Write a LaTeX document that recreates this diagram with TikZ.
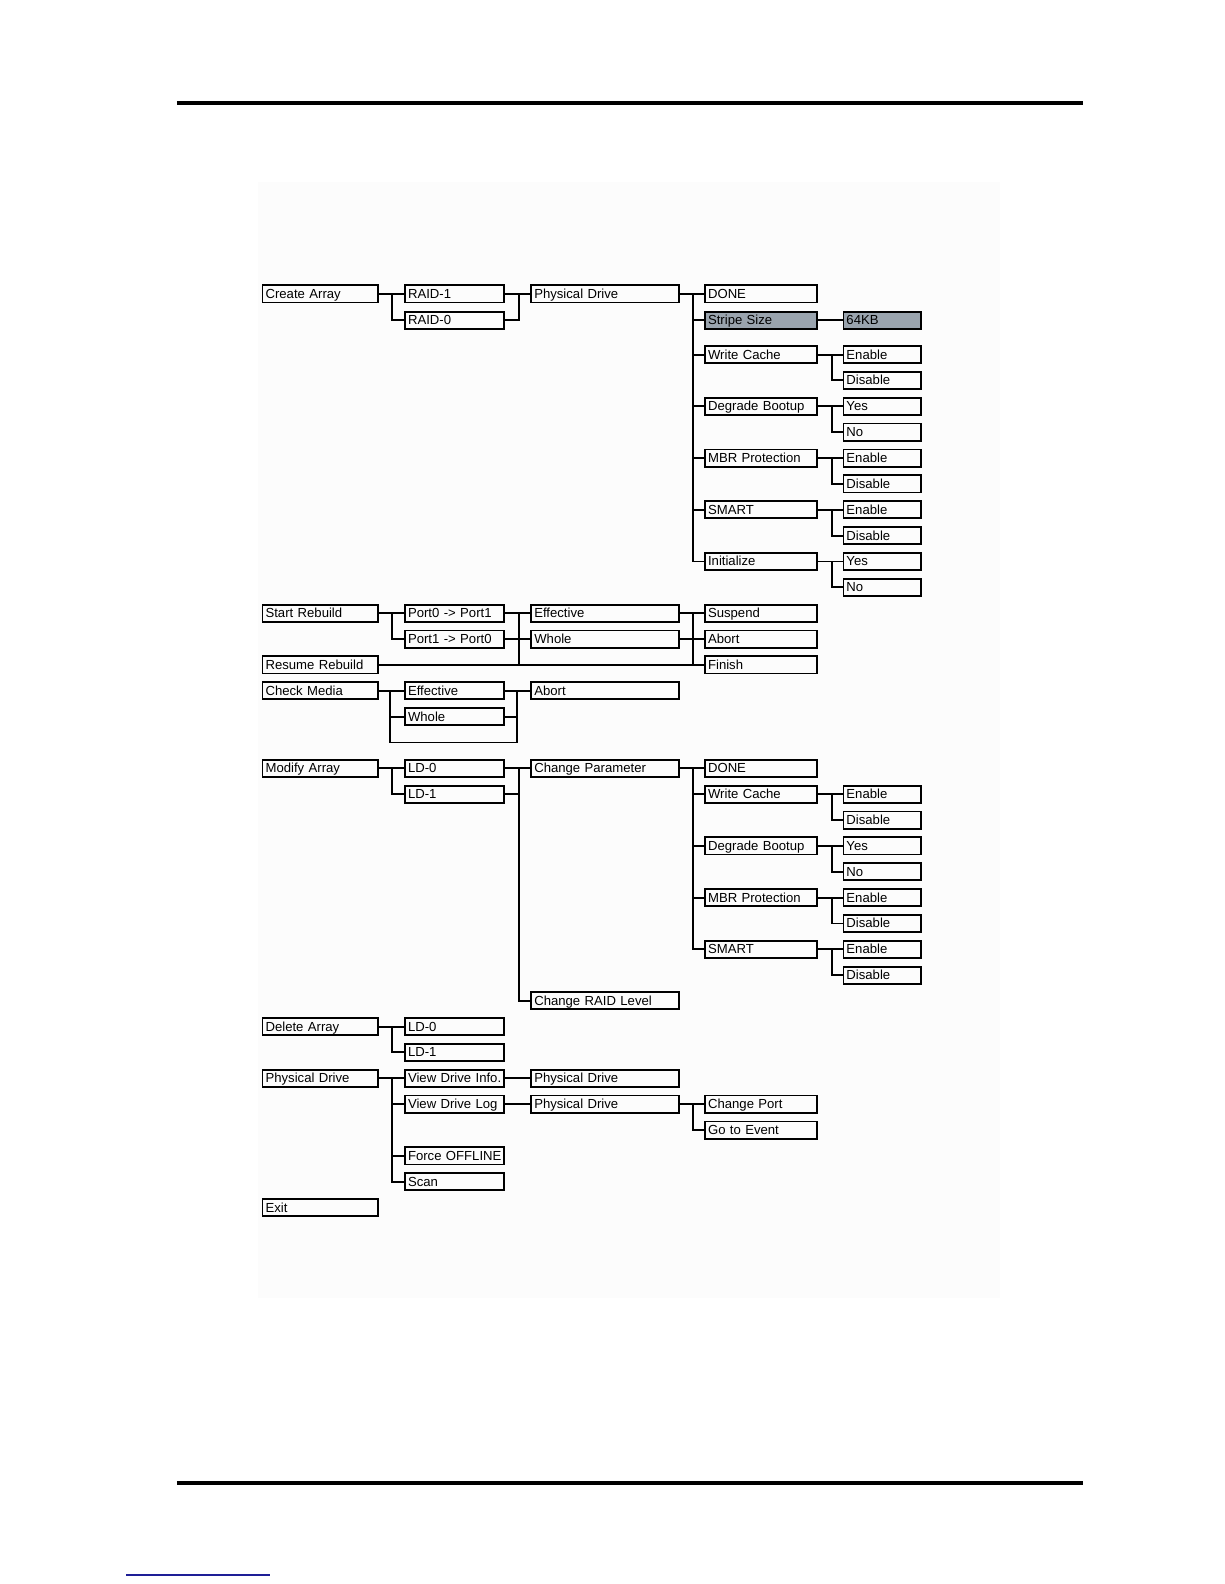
\documentclass[tikz,border=0pt]{standalone}
\usepackage{fontspec}
\setmainfont{Liberation Sans}
\begin{document}
\begin{tikzpicture}[x=1pt,y=-1pt,
  bx/.style={draw, line width=1.8pt, inner xsep=3pt, inner ysep=0pt, minimum height=17pt,
    text height=10.4pt, text depth=1.6pt, anchor=west, align=left,
    font=\fontsize{13}{13}\selectfont},
  ca/.style={bx, text width=108pt},
  cb/.style={bx, text width=92pt},
  cc/.style={bx, text width=140pt},
  cd/.style={bx, text width=105pt},
  ce/.style={bx, text width=71pt},
  shade/.style={fill={rgb,255:red,154;green,164;blue,174}},
  cn/.style={line width=1.9pt},
  rule/.style={line width=4pt}]
\useasboundingbox (0,0) rectangle (1212,1568);
\fill[gray!2] (255,180) rectangle (990,1285);
\draw[rule] (175,102) coordinate (tl) -- (1072,102) coordinate (tr);
\draw[rule] (175,1468) coordinate (bl) -- (1072,1468) coordinate (br);
\draw[line width=1.3pt, color={rgb,255:red,30;green,30;blue,150}] (125,1559) coordinate (ul) -- (267,1559) coordinate (ur);

\newcommand\myfork[2]{\draw[cn] (#1.east) ++(13.5,0) |- (#2.west);}
\newcommand\mymerge[2]{\draw[cn] (#1.east) -- ++(13.5,0) |- (#2.west);}

% ---- Create Array
\node[ca] (ca) at (259,291) {Create Array};
\node[cb] (r1) at (400,291) {RAID-1};
\node[cb] (r0) at (400,317) {RAID-0};
\node[cc] (pd) at (525,291) {Physical Drive};
\node[cd] (dn) at (697,291) {DONE};
\node[cd,shade] (ss) at (697,317) {Stripe Size};
\node[ce,shade] (kb) at (834,317) {64KB};
\node[cd] (wc) at (697,351) {Write Cache};
\node[ce] (wce) at (834,351) {Enable};
\node[ce] (wcd) at (834,376.6) {Disable};
\node[cd] (db) at (697,402.2) {Degrade Bootup};
\node[ce] (dby) at (834,402.2) {Yes};
\node[ce] (dbn) at (834,427.8) {No};
\node[cd] (mp) at (697,453.4) {MBR Protection};
\node[ce] (mpe) at (834,453.4) {Enable};
\node[ce] (mpd) at (834,479) {Disable};
\node[cd] (sm) at (697,504.6) {SMART};
\node[ce] (sme) at (834,504.6) {Enable};
\node[ce] (smd) at (834,530.2) {Disable};
\node[cd] (ini) at (697,555.8) {Initialize};
\node[ce] (iny) at (834,555.8) {Yes};
\node[ce] (inn) at (834,581.4) {No};

\draw[cn] (ca.east) -- (r1.west);
\myfork{ca}{r0}
\draw[cn] (r1.east) -- (pd.west);
\mymerge{r0}{pd}
\draw[cn] (pd.east) -- (dn.west);
\foreach \c in {ss,wc,db,mp,sm,ini} {\myfork{pd}{\c}}
\draw[cn] (ss.east) -- (kb.west);
\draw[cn] (wc.east) -- (wce.west); \myfork{wc}{wcd}
\draw[cn] (db.east) -- (dby.west); \myfork{db}{dbn}
\draw[cn] (mp.east) -- (mpe.west); \myfork{mp}{mpd}
\draw[cn] (sm.east) -- (sme.west); \myfork{sm}{smd}
\draw[cn] (ini.east) -- (iny.west); \myfork{ini}{inn}

% ---- Rebuild
\node[ca] (sr) at (259,607) {Start Rebuild};
\node[cb] (p0) at (400,607) {Port0 -> Port1};
\node[cb] (p1) at (400,632.6) {Port1 -> Port0};
\node[cc] (ef) at (525,607) {Effective};
\node[cc] (wh) at (525,632.6) {Whole};
\node[cd] (su) at (697,607) {Suspend};
\node[cd] (ab) at (697,632.6) {Abort};
\node[cd] (fi) at (697,658.2) {Finish};
\node[ca] (rr) at (259,658.2) {Resume Rebuild};

\draw[cn] (sr.east) -- (p0.west);
\myfork{sr}{p1}
\draw[cn] (p0.east) -- (ef.west);
\draw[cn] (p1.east) -- (wh.west);
\draw[cn] (rr.east) -- (fi.west);
\draw[cn] (p0.east) ++(13.5,0) |- (rr.east);
\draw[cn] (ef.east) -- (su.west);
\draw[cn] (wh.east) -- (ab.west);
\myfork{ef}{fi}

% ---- Check Media
\node[ca] (cm) at (259,683.8) {Check Media};
\node[cb] (e2) at (400,683.8) {Effective};
\node[cb] (w2) at (400,709.4) {Whole};
\node[cc] (a2) at (525,683.8) {Abort};
\coordinate (lb1) at (386.5,735);
\coordinate (lb2) at (511.5,735);
\draw[cn] (cm.east) -- (e2.west);
\draw[cn] (cm.east) -| (lb1);
\draw[cn] (lb1) |- (w2.west);
\draw[cn] (lb1) -- (lb2) |- (a2.west);
\draw[cn] (w2.east) -| (lb2);
\draw[cn] (e2.east) -- (a2.west);

% ---- Modify Array
\node[ca] (ma) at (259,760.6) {Modify Array};
\node[cb] (l0) at (400,760.6) {LD-0};
\node[cb] (l1) at (400,786.2) {LD-1};
\node[cc] (cp) at (525,760.6) {Change Parameter};
\node[cc] (cr) at (525,990.6) {Change RAID Level};
\node[cd] (dn2) at (697,760.6) {DONE};
\node[cd] (wc2) at (697,786.2) {Write Cache};
\node[ce] (wce2) at (834,786.2) {Enable};
\node[ce] (wcd2) at (834,811.8) {Disable};
\node[cd] (db2) at (697,837.4) {Degrade Bootup};
\node[ce] (dby2) at (834,837.4) {Yes};
\node[ce] (dbn2) at (834,863) {No};
\node[cd] (mp2) at (697,888.6) {MBR Protection};
\node[ce] (mpe2) at (834,888.6) {Enable};
\node[ce] (mpd2) at (834,914.2) {Disable};
\node[cd] (sm2) at (697,939.8) {SMART};
\node[ce] (sme2) at (834,939.8) {Enable};
\node[ce] (smd2) at (834,965.4) {Disable};

\draw[cn] (ma.east) -- (l0.west);
\myfork{ma}{l1}
\draw[cn] (l0.east) -- (cp.west);
\myfork{l0}{cr}
\mymerge{l1}{cp}
\draw[cn] (cp.east) -- (dn2.west);
\foreach \c in {wc2,db2,mp2,sm2} {\myfork{cp}{\c}}
\draw[cn] (wc2.east) -- (wce2.west); \myfork{wc2}{wcd2}
\draw[cn] (db2.east) -- (dby2.west); \myfork{db2}{dbn2}
\draw[cn] (mp2.east) -- (mpe2.west); \myfork{mp2}{mpd2}
\draw[cn] (sm2.east) -- (sme2.west); \myfork{sm2}{smd2}

% ---- Delete Array
\node[ca] (da) at (259,1016.2) {Delete Array};
\node[cb] (dl0) at (400,1016.2) {LD-0};
\node[cb] (dl1) at (400,1041.8) {LD-1};
\draw[cn] (da.east) -- (dl0.west);
\myfork{da}{dl1}

% ---- Physical Drive
\node[ca] (pdr) at (259,1067.4) {Physical Drive};
\node[cb] (vi) at (400,1067.4) {\mbox{View Drive Info.}};
\node[cb] (vl) at (400,1093) {\mbox{View Drive Log}};
\node[cb] (fo) at (400,1144.2) {\mbox{Force OFFLINE}};
\node[cb] (sc) at (400,1169.8) {Scan};
\node[cc] (pi) at (525,1067.4) {Physical Drive};
\node[cc] (pl) at (525,1093) {Physical Drive};
\node[cd] (chp) at (697,1093) {Change Port};
\node[cd] (ge) at (697,1118.6) {Go to Event};
\draw[cn] (pdr.east) -- (vi.west);
\foreach \c in {vl,fo,sc} {\myfork{pdr}{\c}}
\draw[cn] (vi.east) -- (pi.west);
\draw[cn] (vl.east) -- (pl.west);
\draw[cn] (pl.east) -- (chp.west);
\myfork{pl}{ge}

% ---- Exit
\node[ca] (ex) at (259,1195.4) {Exit};
\end{tikzpicture}
\end{document}
